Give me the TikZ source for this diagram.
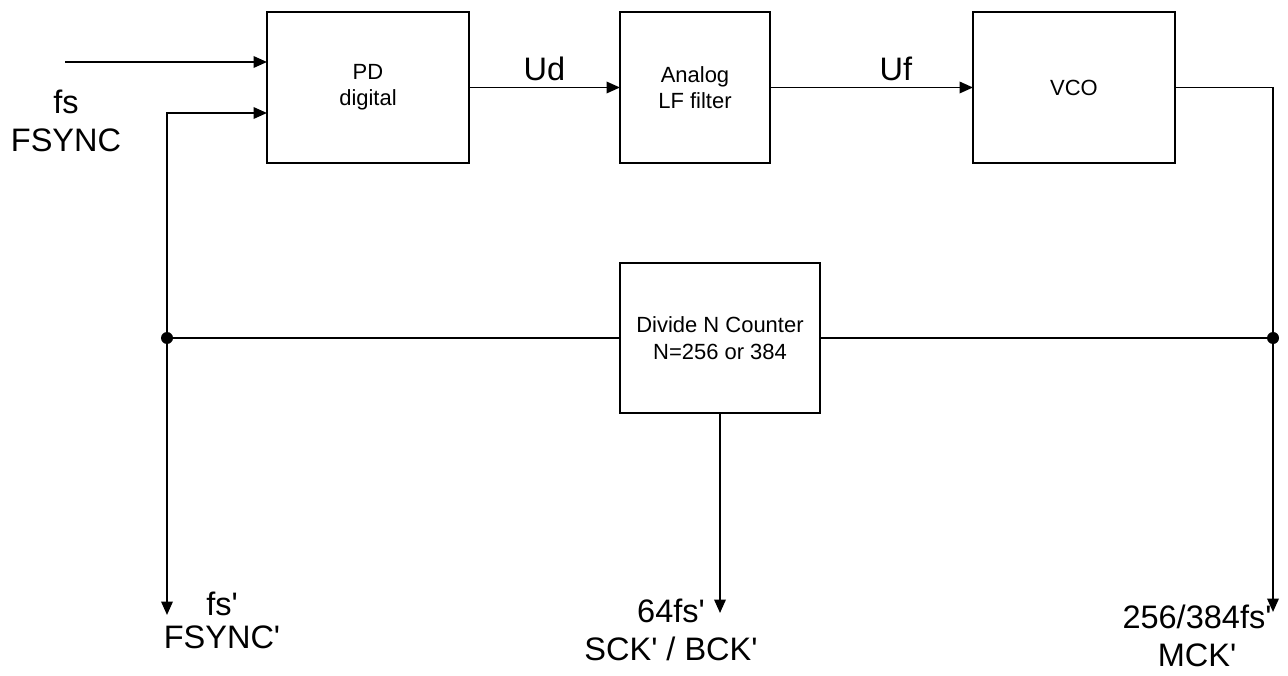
\documentclass[tikz,border=0pt]{standalone}
\usepackage{fontspec}
\setmainfont{Liberation Sans}
\usetikzlibrary{positioning, arrows.meta}

\begin{document}
\begin{tikzpicture}[
  every node/.style={font=\fontsize{18.5}{22}\selectfont},
  blk/.style={draw, line width=1.1pt, outer sep=0pt, minimum height=3.02cm, align=center,
    font=\fontsize{12.5}{15}\selectfont},
  arr/.style={-{Triangle[length=2.7mm, width=2.3mm]}, line width=1.1pt},
  wire/.style={line width=1.1pt},
  lbl/.style={align=center}
]
  \useasboundingbox (0,0) rectangle (25.76,-13.52);

  % top row
  \node[blk, minimum width=4.04cm] (pd) at (7.36,-1.75) {PD\\digital};
  \node[blk, minimum width=3cm, right=3.02cm of pd] (lf) {Analog\\LF filter};
  \node[blk, minimum width=4.04cm, right=4.06cm of lf] (vco) {VCO};
  \node[blk, minimum width=4cm, minimum height=3cm,
        below=2cm of lf.south west, anchor=north west] (div) {Divide N Counter\\N=256 or 384};

  % joints and free ends
  \coordinate (fsin) at (1.3,-1.24);
  \coordinate (fb) at (3.34,-2.26);
  \coordinate (jl) at (3.34,-6.76);
  \coordinate (jr) at (25.46,-6.76);
  \coordinate (fsout) at (3.34,-12.3);
  \coordinate (sckout) at (14.4,-12.26);
  \coordinate (mckout) at (25.46,-12.24);

  \draw[arr] (fsin) -- (fsin -| pd.west);
  \draw[arr] (jl) -- (fb) -- (fb -| pd.west);
  \draw[arr] (jl) -- (fsout);
  \draw[arr] (pd) -- node[above, inner sep=1.2mm] (ud) {Ud} (lf);
  \draw[arr] (lf) -- node[above, inner sep=1.2mm, pos=0.62] (uf) {Uf} (vco);
  \draw[arr] (vco.east) -- (vco.east -| jr) -- (mckout);
  \draw[wire] (jl) -- (div.west);
  \draw[wire] (div.east) -- (jr);
  \draw[arr] (div.south) -- (div.south |- sckout);
  \fill (jl) circle (0.12);
  \fill (jr) circle (0.12);

  % labels
  \node[lbl] (fs) at (1.32,-2.42) {fs\\FSYNC};
  \node[lbl, font=\fontsize{18.5}{19}\selectfont] (fsp) at (4.44,-12.41)
    {fs\textquotesingle\\FSYNC\textquotesingle};
  \node[lbl] (sck) at (13.42,-12.6)
    {64fs\textquotesingle\\SCK\textquotesingle\ / BCK\textquotesingle};
  \node[lbl] (mck) at (23.94,-12.72) {256/384fs\textquotesingle\\MCK\textquotesingle};
\end{tikzpicture}
\end{document}
